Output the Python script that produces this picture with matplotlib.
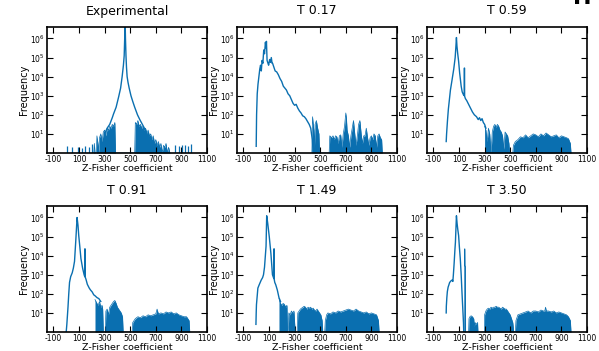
import numpy as np
import matplotlib
matplotlib.use("Agg")
import matplotlib.pyplot as plt

titles = ["Experimental", "T 0.17", "T 0.59", "T 0.91", "T 1.49", "T 3.50"]
xticks = [-100, 100, 300, 500, 700, 900, 1100]
yticks = [1e1, 1e2, 1e3, 1e4, 1e5, 1e6]

# ---- smooth curve parts (x, log10 frequency) ----
exp_lx = [300, 320, 340, 360, 370, 390, 410, 425, 437, 447, 453, 457, 460, 463, 467, 471, 476, 483, 492, 506, 520, 535, 557, 575, 595, 615, 632]
exp_ly = [1.0, 1.3, 1.5, 1.85, 2.05, 2.4, 2.95, 3.4, 4.0, 4.6, 5.1, 6.0, 7.0, 6.0, 5.1, 4.5, 4.0, 3.7, 3.4, 3.0, 2.7, 2.4, 2.0, 1.75, 1.5, 1.25, 1.0]

t017_lx = [0, 3, 8, 14, 21, 28, 34, 40, 46, 52, 59, 65, 72, 77, 80, 85, 92, 97, 105, 112, 118, 124, 128, 138, 148, 160, 173, 186, 199, 212, 224, 236, 249, 262, 275, 288, 300, 312, 325, 338, 350, 363, 376, 388, 401, 414, 426, 432, 439, 445]
t017_ly = [0.35, 2.0, 3.1, 3.6, 4.0, 4.4, 4.6, 4.3, 4.85, 4.7, 5.4, 5.2, 5.8, 5.5, 5.85, 4.85, 4.7, 4.6, 4.9, 4.75, 5.0, 4.7, 4.7, 4.5, 4.3, 4.25, 4.1, 3.9, 3.75, 3.5, 3.4, 3.3, 3.1, 3.0, 2.8, 2.6, 2.5, 2.55, 2.35, 2.2, 2.1, 1.95, 1.9, 1.8, 1.65, 1.5, 1.3, 1.0, 0.7, 0.0]

t059_lx = [0, 3, 10, 17, 25, 33, 45, 59, 70, 76, 80, 84, 90, 97, 105, 117, 125, 135, 141, 142, 143, 144, 145, 150, 160, 175, 190, 205, 220, 237, 250, 260, 270, 280, 290, 300, 310]
t059_ly = [0.6, 1.0, 1.7, 2.3, 2.8, 3.3, 3.8, 4.4, 5.0, 5.6, 6.05, 5.6, 5.2, 4.8, 4.2, 3.5, 3.2, 3.05, 3.0, 4.45, 4.45, 3.0, 2.95, 2.85, 2.75, 2.55, 2.35, 2.15, 2.0, 1.9, 1.75, 1.85, 1.7, 1.8, 1.6, 1.5, 1.3]

t091_lx = [0, 5, 10, 14, 20, 26, 35, 47, 56, 65, 75, 85, 92, 98, 106, 115, 128, 140, 145, 146, 147, 148, 150, 155, 165, 180, 190, 203, 215, 225, 241, 255, 270]
t091_ly = [0.0, 0.4, 0.9, 1.3, 2.0, 2.6, 2.9, 3.1, 3.35, 3.7, 4.8, 6.0, 5.6, 5.05, 4.5, 3.85, 3.35, 3.0, 2.9, 4.36, 4.36, 2.9, 2.85, 2.75, 2.5, 2.3, 2.2, 2.1, 1.95, 1.9, 1.8, 1.75, 1.6]

t149_lx = [-2, 0, 2, 8, 13, 25, 39, 50, 57, 65, 77, 82, 90, 102, 115, 127, 135, 138, 139, 140, 141, 145, 153, 165, 178, 190]
t149_ly = [0.4, 1.0, 1.43, 1.9, 2.3, 2.5, 2.72, 2.85, 3.0, 3.4, 4.5, 6.09, 5.7, 5.0, 4.1, 3.0, 2.85, 2.8, 4.36, 4.36, 2.75, 2.6, 2.47, 2.2, 1.8, 1.6]

t350_lx = [0, 1, 5, 9, 15, 21, 27, 33, 40, 47, 52, 56, 62, 68, 72, 76, 80, 85, 90, 97, 103, 110, 117, 123, 129, 135, 137]
t350_ly = [1.0, 1.35, 1.8, 2.12, 2.35, 2.47, 2.6, 2.64, 2.7, 2.72, 2.65, 3.0, 3.6, 4.3, 4.7, 5.4, 6.09, 5.7, 5.4, 5.05, 4.45, 3.84, 3.0, 2.12, 1.3, 0.48, 0.0]

# ---- dense noisy parts (x, upper log10 frequency; filled down to the axis) ----
exp_bx = [215, 220, 225, 235, 240, 250, 255, 260, 270, 280, 290, 300, 310, 320, 330, 340, 350, 360, 370, 380, 385, 535, 540, 550, 560, 570, 580, 590, 600, 610, 620, 630, 640, 650, 660, 670, 680, 690, 700, 710, 720, 730, 740, 750, 760, 770, 780, 790, 800, 810]
exp_bh = [0, 0.5, 0, 0, 0.9, 0.4, 0, 0.8, 1.0, 0.6, 1.1, 1.2, 0.9, 1.3, 1.2, 1.4, 1.3, 1.5, 1.4, 1.6, 0, 0, 1.6, 1.5, 1.7, 1.4, 1.5, 1.3, 1.4, 1.2, 1.3, 1.0, 1.2, 0.9, 1.0, 0.7, 0.9, 0.5, 0.7, 0.4, 0.6, 0.3, 0.5, 0, 0.4, 0.3, 0.5, 0, 0.3, 0]

t017_bx = [435, 440, 450, 455, 460, 470, 480, 490, 495, 570, 575, 590, 600, 610, 620, 630, 640, 650, 660, 670, 680, 690, 700, 705, 710, 720, 730, 740, 750, 760, 770, 780, 790, 800, 810, 820, 830, 840, 850, 860, 870, 880, 890, 900, 910, 920, 930, 940, 950, 960, 970, 980, 985]
t017_bh = [0, 1.9, 1.2, 0.3, 1.5, 1.7, 1.3, 1.0, 0, 0, 0.9, 0.8, 0.9, 0.7, 0.9, 0.85, 0.5, 0.9, 0.95, 0.3, 1.0, 1.4, 2.1, 1.8, 1.2, 0.9, 0.3, 0.9, 1.3, 1.7, 1.0, 0.4, 0.9, 1.5, 1.7, 1.0, 0.5, 0.9, 0.9, 1.3, 0.8, 0.4, 0.8, 0.9, 0.7, 1.0, 0.9, 0.3, 0.9, 1.0, 0.8, 0.7, 0]

t059_bx = [300, 310, 320, 330, 340, 350, 360, 370, 380, 390, 400, 410, 420, 430, 440, 450, 460, 470, 480, 490, 495, 520, 525, 540, 560, 580, 600, 620, 640, 660, 680, 700, 720, 740, 760, 780, 800, 820, 840, 860, 880, 900, 920, 940, 955, 970, 975]
t059_bh = [1.4, 1.2, 0.6, 1.3, 1.0, 0, 1.1, 1.4, 1.5, 1.35, 1.5, 1.4, 1.2, 1.1, 0.9, 0.2, 1.1, 1.0, 0.9, 0.5, 0, 0, 0.4, 0.6, 0.7, 0.85, 0.8, 0.95, 0.8, 0.9, 1.0, 0.95, 0.85, 1.0, 0.9, 1.05, 0.95, 0.85, 0.9, 0.95, 0.8, 0.9, 0.85, 0.8, 0.75, 0.5, 0]

t091_bx = [225, 240, 250, 260, 270, 280, 285, 290, 305, 310, 320, 330, 340, 350, 360, 370, 380, 390, 400, 410, 420, 430, 440, 445, 515, 520, 540, 560, 580, 600, 620, 640, 660, 680, 700, 710, 720, 740, 760, 780, 800, 820, 840, 860, 880, 900, 920, 940, 960, 965]
t091_bh = [1.7, 1.5, 1.4, 1.6, 1.3, 1.4, 1.2, 0, 0, 1.1, 1.2, 0.9, 1.3, 1.4, 1.5, 1.6, 1.65, 1.5, 1.3, 1.2, 1.1, 1.0, 0.8, 0, 0, 0.5, 0.7, 0.8, 0.75, 0.85, 0.8, 0.9, 0.85, 0.9, 0.95, 1.2, 0.95, 1.0, 0.95, 1.05, 1.0, 1.05, 0.95, 1.0, 0.9, 0.85, 0.8, 0.8, 0.6, 0]

t149_bx = [178, 190, 200, 210, 220, 230, 240, 245, 250, 255, 265, 275, 285, 295, 300, 305, 320, 325, 335, 345, 355, 365, 375, 385, 395, 405, 415, 425, 435, 445, 455, 465, 475, 485, 495, 505, 515, 520, 535, 540, 550, 560, 580, 600, 620, 640, 660, 680, 700, 720, 740, 760, 780, 800, 820, 840, 860, 880, 900, 920, 940, 955, 960]
t149_bh = [1.75, 1.5, 1.4, 1.5, 1.45, 1.3, 1.4, 0, 0, 1.0, 0.9, 1.1, 1.0, 1.1, 0.5, 0, 0, 1.0, 1.1, 1.2, 1.25, 1.3, 1.35, 1.3, 1.2, 1.3, 1.25, 1.3, 1.2, 1.25, 1.15, 1.1, 1.2, 1.1, 1.0, 0.9, 0.6, 0, 0, 0.6, 0.9, 1.0, 0.95, 1.05, 1.0, 1.1, 1.05, 1.1, 1.15, 1.2, 1.15, 1.1, 1.2, 1.1, 1.05, 1.0, 1.05, 0.95, 1.0, 0.95, 0.9, 0.6, 0]

t350_bx = [143, 144, 146, 147, 150, 151, 175, 178, 185, 195, 205, 215, 220, 225, 235, 245, 248, 298, 300, 310, 320, 330, 340, 350, 360, 370, 380, 390, 400, 410, 420, 430, 440, 450, 460, 470, 480, 490, 500, 510, 520, 528, 540, 545, 560, 580, 600, 620, 640, 660, 680, 700, 720, 740, 760, 770, 776, 782, 800, 820, 840, 860, 880, 900, 920, 940, 955, 970, 975]
t350_bh = [0, 4.36, 4.36, 3.45, 3.45, 0, 0, 0.7, 0.8, 0.85, 0.8, 0.7, 0.3, 0.5, 0.4, 0.5, 0, 0, 0.9, 1.1, 1.2, 1.25, 1.2, 1.3, 1.25, 1.3, 1.3, 1.35, 1.3, 1.3, 1.25, 1.2, 1.3, 1.25, 1.2, 1.2, 1.1, 1.0, 0.9, 0.7, 0.5, 0, 0, 0.6, 0.9, 0.95, 1.0, 1.05, 1.1, 1.0, 1.1, 1.1, 1.05, 1.15, 1.1, 1.1, 1.3, 1.1, 1.1, 1.05, 1.1, 1.0, 1.05, 1.0, 0.95, 0.9, 0.8, 0.6, 0]

# ---- isolated spikes (x, log10 height) ----
exp_sx = [3, 45, 95, 125, 150, 180, 200, 850, 880, 905, 930, 955, 975]
exp_sh = [0.35, 0.3, 0.3, 0.25, 0.35, 0.3, 0.45, 0.4, 0.35, 0.4, 0.4, 0.35, 0.45]

panels = [
    (exp_lx, exp_ly, exp_bx, exp_bh, exp_sx, exp_sh),
    (t017_lx, t017_ly, t017_bx, t017_bh, [], []),
    (t059_lx, t059_ly, t059_bx, t059_bh, [], []),
    (t091_lx, t091_ly, t091_bx, t091_bh, [], []),
    (t149_lx, t149_ly, t149_bx, t149_bh, [], []),
    (t350_lx, t350_ly, t350_bx, t350_bh, [], []),
]

color = "#0a6fb0"
W, H = 599, 351
fig = plt.figure(figsize=(W / 100, H / 100), dpi=100)

lefts = [47, 237, 427]
tops = [27, 206]
aw, ah = 160, 126

for i, (lx, ly, bx, bh, sx, sh) in enumerate(panels):
    r, c = divmod(i, 3)
    ax = fig.add_axes([lefts[c] / W, 1 - (tops[r] + ah) / H, aw / W, ah / H])
    ax.set_yscale("log")
    ax.set_xlim(-150, 1100)
    ax.set_ylim(1, 4e6)
    bxa = np.array(bx, dtype=float)
    bha = np.power(10.0, np.array(bh, dtype=float))
    ax.fill_between(bxa, 1, bha, color=color, linewidth=0)
    ax.plot(bxa, bha, color=color, lw=0.5)
    ax.plot(lx, np.power(10.0, np.array(ly)), color=color, lw=1.0)
    if sx:
        ax.vlines(sx, 1, np.power(10.0, np.array(sh)), color=color, lw=0.9)
    ax.set_xticks(xticks)
    ax.set_xticklabels([str(t) for t in xticks], fontsize=5.5)
    ax.set_yticks(yticks)
    ax.minorticks_off()
    ax.tick_params(axis="y", labelsize=5.5)
    ax.tick_params(direction="in", top=True, right=True, length=4, width=0.8, pad=1.5)
    for s in ax.spines.values():
        s.set_linewidth(1.2)
    ax.set_title(titles[i], fontsize=9, pad=9)
    ax.set_xlabel("Z-Fisher coefficient", fontsize=6.8, labelpad=0)
    ax.set_ylabel("Frequency", fontsize=7, labelpad=1)

fig.text(0.972, 0.977, "H", fontsize=16, fontweight="bold", ha="center", va="bottom")
fig.savefig("out.png", dpi=100)
